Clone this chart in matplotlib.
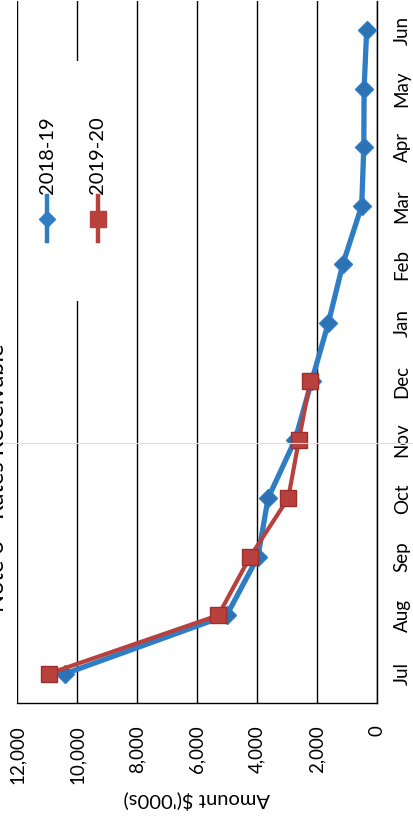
import matplotlib
matplotlib.use("Agg")
import matplotlib.pyplot as plt
from matplotlib.patches import Rectangle
from matplotlib.lines import Line2D

plt.rcParams['font.family'] = ['Lato', 'DejaVu Sans']

months = ['Jul', 'Aug', 'Sep', 'Oct', 'Nov', 'Dec', 'Jan', 'Feb', 'Mar', 'Apr', 'May', 'Jun']
amount_2018_19 = [10400, 5010, 3970, 3630, 2730, 2180, 1620, 1140, 510, 440, 430, 345]
amount_2019_20 = [10950, 5290, 4230, 2960, 2600, 2230]
value_ticks = [0, 2000, 4000, 6000, 8000, 10000, 12000]

W, H = 413, 818
fig = plt.figure(figsize=(W / 100, H / 100), dpi=100)

# the scanned page is turned 90 degrees: values run right-to-left, months bottom-to-top
ax = fig.add_axes([17 / W, 1 - 703 / H, 360 / W, 702 / H])
ax.set_xlim(12000, 0)
ax.set_ylim(-0.5, len(months) - 0.5)

ax.set_xticks(value_ticks)
ax.set_xticklabels([f'{v:,}' for v in value_ticks], rotation=90, fontsize=13.5)
ax.set_yticks(range(len(months)))
ax.set_yticklabels(months, rotation=90, fontsize=13.5, va='center')
ax.yaxis.tick_right()
ax.tick_params(axis='x', length=0, pad=16)
ax.tick_params(axis='y', length=0, pad=12)

ax.grid(axis='x', color='black', linewidth=1.0)
for s in ['top', 'left']:
    ax.spines[s].set_visible(False)
ax.spines['bottom'].set_color('black')
ax.spines['right'].set_color('black')
ax.spines['bottom'].set_linewidth(1.0)
ax.spines['right'].set_linewidth(1.0)

blue = '#2F7DC5'
red = '#B8413E'
ax.plot(amount_2018_19, range(len(amount_2018_19)), color=blue, linewidth=3.8,
        marker='D', markersize=9, markerfacecolor='#2C72B5', markeredgecolor=blue, zorder=3)
ax.plot(amount_2019_20, range(len(amount_2019_20)), color=red, linewidth=3.0,
        marker='s', markersize=12, markerfacecolor=red, markeredgecolor='#9E2E2B', zorder=4)

ax.set_xlabel("Amount $('000s)", fontsize=14.5, rotation=180, labelpad=5)

# hand-made legend, turned like the rest of the page
ax.add_patch(Rectangle((3 / 360, 1 - 300 / 702), 110 / 360, 240 / 702, transform=ax.transAxes,
                       facecolor='white', edgecolor='none', zorder=2))
for i, (lbl, col, mk, ms) in enumerate([('2018-19', blue, 'D', 8), ('2019-20', red, 's', 11)]):
    xa = (47 + 51 * i - 17) / 360
    ax.add_line(Line2D([xa, xa], [1 - 240 / 702, 1 - 195 / 702], transform=ax.transAxes,
                       color=col, linewidth=3.2, zorder=3))
    ax.add_line(Line2D([xa], [1 - 218 / 702], transform=ax.transAxes, color=col,
                       marker=mk, markersize=ms, markeredgecolor=col, zorder=3))
    ax.text(xa, 1 - 193 / 702, lbl, transform=ax.transAxes, rotation=90,
            ha='center', va='bottom', fontsize=14.5, zorder=3)

fig.text(8 / W, 1 - 478 / H, 'Note 6 - Rates Receivable', rotation=90,
         ha='right', va='center', fontsize=17)

# faint scanner streak
fig.add_artist(Line2D([0, 1], [1 - 443 / H, 1 - 443 / H], transform=fig.transFigure,
                      color='#F7D6E1', linewidth=0.8))

fig.savefig('out.png', dpi=100)
